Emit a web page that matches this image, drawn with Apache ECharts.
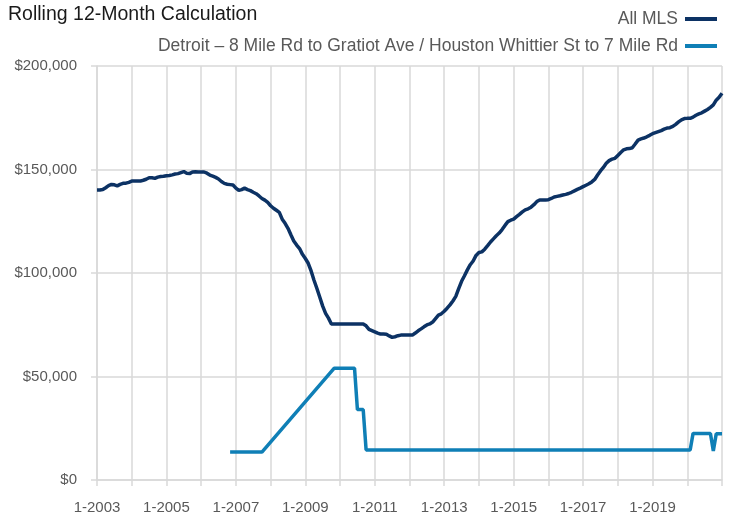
<!DOCTYPE html>
<html>
<head>
<meta charset="utf-8">
<script src="https://cdn.jsdelivr.net/npm/echarts@6/dist/echarts.min.js"></script>
<style>
html,body{margin:0;padding:0;background:#fff;}
#c{width:732px;height:515px;}
</style>
</head>
<body>
<div id="c"></div>
<script>
// ---- data ----
var years = [2003,2004,2005,2006,2007,2008,2009,2010,2011,2012,2013,2014,2015,2016,2017,2018,2019,2020,2021];
var months = [1,2,3,4,5,6,7,8,9,10,11,12];
var xTickLabels = ['1-2003','1-2005','1-2007','1-2009','1-2011','1-2013','1-2015','1-2017','1-2019'];
var yTicks = [0, 50000, 100000, 150000, 200000];
var seriesNames = ['All MLS', 'Detroit \u2013 8 Mile Rd to Gratiot Ave / Houston Whittier St to 7 Mile Rd'];

// All MLS, monthly, 1-2003 .. 1-2021
var allMLS = [
  140100,140100,140300,141200,142200,142800,142600,142100,142800,143300,143400,143800,
  144400,144400,144500,144400,144800,145300,146000,146000,145700,146300,146600,146700,
  147000,147100,147400,147800,148000,148500,149000,148200,148000,148800,148900,148800,
  148800,148800,148200,147300,146800,146200,145400,144200,143300,142900,142700,142500,
  141000,139900,140300,141000,140300,139800,139000,138300,137200,136000,135200,134100,
  132500,131300,130300,129300,126000,124000,121600,118500,115500,113500,111800,109000,
  107000,104700,101000,96500,92500,88300,84000,80500,78200,75400,75400,75400,
  75400,75400,75400,75400,75400,75400,75400,75400,75400,74500,72800,72200,
  71600,71000,70500,70500,70400,69600,68900,69200,69700,70000,70000,70000,
  70000,70000,71000,72100,73000,74000,74900,75400,76300,78000,79700,80300,
  81500,83000,84600,86500,88700,92500,96000,98700,101500,104000,105800,108500,
  109900,110200,111500,113200,115000,116500,118000,119300,121000,123000,124800,125500,
  126000,127200,128300,129500,130500,131000,131800,133000,134500,135300,135300,135300,
  135400,136000,136700,137000,137300,137700,138000,138400,139000,139700,140400,141000,
  141700,142400,143100,144000,145200,147300,149300,151000,153000,154300,155000,155400,
  156800,158200,159500,160000,160100,160500,162300,164200,164800,165200,165800,166500,
  167300,167800,168300,168800,169500,170000,170200,170800,171800,173000,174000,174600,
  174700,174700,175300,176200,176900,177400,178200,179000,180000,181200,183500,184900,
  186800
];

// Detroit area, monthly, 1-2003 .. 1-2021 (null = no sales)
var detroit = [
  null,null,null,null,null,null,null,null,null,null,null,null,
  null,null,null,null,null,null,null,null,null,null,null,null,
  null,null,null,null,null,null,null,null,null,null,null,null,
  null,null,null,null,null,null,null,null,null,null,13500,13500,
  13500,13500,13500,13500,13500,13500,13500,13500,13500,13500,null,null,
  null,null,null,null,null,null,null,null,null,null,null,null,
  null,null,null,null,null,null,null,null,null,null,54000,54000,
  54000,54000,54000,54000,54000,54000,34000,34000,34000,14500,14500,14500,
  14500,14500,14500,14500,14500,14500,14500,14500,14500,14500,14500,14500,
  14500,14500,14500,14500,14500,14500,14500,14500,14500,14500,14500,14500,
  14500,14500,14500,14500,14500,14500,14500,14500,14500,14500,14500,14500,
  14500,14500,14500,14500,14500,14500,14500,14500,14500,14500,14500,14500,
  14500,14500,14500,14500,14500,14500,14500,14500,14500,14500,14500,14500,
  14500,14500,14500,14500,14500,14500,14500,14500,14500,14500,14500,14500,
  14500,14500,14500,14500,14500,14500,14500,14500,14500,14500,14500,14500,
  14500,14500,14500,14500,14500,14500,14500,14500,14500,14500,14500,14500,
  14500,14500,14500,14500,14500,14500,14500,14500,14500,14500,14500,14500,
  14500,14500,22500,22500,22500,22500,22500,22500,22500,14000,22300,22300,
  22300
];

// categories "M-YYYY" built from years/months
var categories = [];
years.forEach(function(y){
  months.forEach(function(m){
    if (y < 2021 || m === 1) categories.push(m + '-' + y);
  });
});

var FONT = '"Liberation Sans", Arial, sans-serif';
var GRID = '#d9d9d9';
var TXT = '#595959';

var chart = echarts.init(document.getElementById('c'), null, {renderer: 'canvas'});
chart.setOption({
  animation: false,
  backgroundColor: '#ffffff',
  title: {
    text: 'Rolling 12-Month Calculation',
    left: 3, top: 0,
    textStyle: {fontFamily: FONT, fontSize: 19.5, fontWeight: 'normal', color: '#1a1a1a'}
  },
  legend: {
    orient: 'vertical',
    right: 10, top: 4,
    align: 'right',
    itemWidth: 32, itemHeight: 4,
    itemGap: 7,
    icon: 'rect',
    data: seriesNames,
    textStyle: {fontFamily: FONT, fontSize: 17.5, color: TXT, lineHeight: 20, padding: [0, 2, 0, 0]}
  },
  grid: {left: 97, right: 10, top: 66, bottom: 35, containLabel: false},
  xAxis: {
    type: 'category',
    data: categories,
    boundaryGap: false,
    axisLine: {show: true, lineStyle: {color: GRID, width: 1.5}},
    axisTick: {show: true, length: 6, lineStyle: {color: GRID, width: 1.5},
      interval: function(i){ return i % 12 === 0; }},
    splitLine: {show: true, lineStyle: {color: GRID, width: 1.5},
      interval: function(i){ return i % 12 === 0; }},
    axisLabel: {
      margin: 20,
      fontFamily: FONT, fontSize: 15, color: TXT,
      interval: function(i, v){ return xTickLabels.indexOf(v) >= 0; }
    }
  },
  yAxis: {
    type: 'value',
    min: yTicks[0], max: yTicks[yTicks.length - 1], interval: yTicks[1] - yTicks[0],
    axisLine: {show: true, lineStyle: {color: GRID, width: 1.5}},
    axisTick: {show: true, length: 6, lineStyle: {color: GRID, width: 1.5}},
    splitLine: {show: true, lineStyle: {color: GRID, width: 1.5}},
    axisLabel: {
      margin: 20,
      fontFamily: FONT, fontSize: 15, color: TXT,
      formatter: function(v){ return '$' + v.toLocaleString('en-US'); }
    }
  },
  series: [
    {
      name: seriesNames[0], type: 'line', data: allMLS,
      showSymbol: false, symbol: 'none',
      lineStyle: {color: '#0c3264', width: 3.5},
      itemStyle: {color: '#0c3264'}
    },
    {
      name: seriesNames[1], type: 'line', data: detroit,
      showSymbol: false, symbol: 'none', connectNulls: true,
      lineStyle: {color: '#0f7fb6', width: 3.5},
      itemStyle: {color: '#0f7fb6'}
    }
  ]
});
</script>
</body>
</html>
